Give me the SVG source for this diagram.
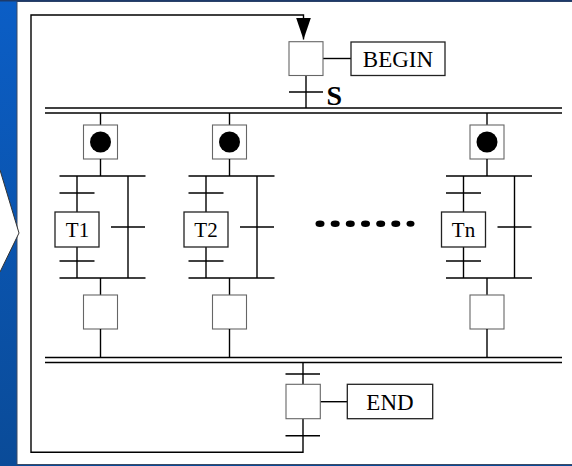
<svg xmlns="http://www.w3.org/2000/svg" width="572" height="466" viewBox="0 0 572 466">
<defs>
<linearGradient id="blue" x1="0" y1="0" x2="0" y2="1">
<stop offset="0" stop-color="#0b5ec6"/>
<stop offset="1" stop-color="#0a4b98"/>
</linearGradient>
<marker id="arr" viewBox="0 0 22 15" refX="22" refY="7.5" markerWidth="22" markerHeight="15" markerUnits="userSpaceOnUse" orient="auto">
<path d="M0,0 L22,7.5 L0,15 Z" fill="#000"/>
</marker>
<g id="col">
<line class="ln" x1="0" y1="113" x2="0" y2="125"/>
<rect class="step" x="-17" y="125" width="34" height="34"/>
<circle cx="0" cy="142" r="10.5" fill="#000"/>
<line class="ln" x1="0" y1="159" x2="0" y2="176"/>
<line class="ln" x1="-41" y1="176" x2="45" y2="176"/>
<line class="ln" x1="-23.5" y1="176" x2="-23.5" y2="212"/>
<line class="ln" x1="-41" y1="193" x2="-6" y2="193"/>
<line class="ln" x1="-23.5" y1="247" x2="-23.5" y2="278"/>
<line class="ln" x1="-41" y1="261" x2="-6" y2="261"/>
<line class="ln" x1="27.5" y1="176" x2="27.5" y2="278"/>
<line class="ln" x1="10.5" y1="227" x2="44.5" y2="227"/>
<line class="ln" x1="-41" y1="278" x2="45" y2="278"/>
<line class="ln" x1="0" y1="278" x2="0" y2="295"/>
<rect class="step" x="-17" y="295" width="34" height="34"/>
<line class="ln" x1="0" y1="329" x2="0" y2="357.5"/>
<rect class="act" x="-45.5" y="212" width="44" height="35"/>
</g>
</defs>
<style>
.ln{stroke:#000;stroke-width:1.4;fill:none}
.step{fill:#fff;stroke:#666;stroke-width:1.1}
.act{fill:#fff;stroke:#222;stroke-width:1.3}
.lbl{font-family:"Liberation Serif","Times New Roman",serif;fill:#000;text-anchor:middle}
</style>
<rect x="0" y="0" width="572" height="466" fill="url(#blue)"/>
<rect x="17" y="1.5" width="556" height="463" fill="#fff" stroke="#3a4a66" stroke-width="1"/>
<line x1="0" y1="0.8" x2="572" y2="0.8" stroke="#1d3a6a" stroke-width="1.6"/>
<polygon points="0,170 19,233 0,272" fill="#fff"/>
<polyline points="0,170 19,233 0,272" fill="none" stroke="#333" stroke-width="1"/>

<g id="connectors">
<polyline class="ln" points="303,418.7 303,452.3 31,452.3 31,15 303.5,15 303.5,39.5" marker-end="url(#arr)"/>
<line class="ln" x1="306" y1="75.5" x2="306" y2="108"/>
<line class="ln" x1="289" y1="92" x2="323" y2="92"/>
<line class="ln" x1="323" y1="58.5" x2="351" y2="58.5"/>
<line class="ln" x1="45" y1="108" x2="562" y2="108"/>
<line class="ln" x1="45" y1="113" x2="562" y2="113"/>
<line class="ln" x1="45" y1="357.5" x2="562" y2="357.5"/>
<line class="ln" x1="45" y1="362.5" x2="562" y2="362.5"/>
<line class="ln" x1="303" y1="362.5" x2="303" y2="384.3"/>
<line class="ln" x1="285.5" y1="374" x2="320" y2="374"/>
<line class="ln" x1="285.5" y1="435.7" x2="320" y2="435.7"/>
<line class="ln" x1="320.3" y1="401.7" x2="347.3" y2="401.7"/>
</g>

<g id="begin-step">
<rect class="step" x="289" y="41.7" width="34" height="33.8"/>
</g>
<g id="begin">
<rect class="act" x="351" y="42" width="94" height="33.5"/>
<text class="lbl" x="398" y="66.5" font-size="23">BEGIN</text>
</g>
<g id="s-label">
<text x="326.5" y="104.5" font-family="Liberation Serif, serif" font-size="28" font-weight="bold">S</text>
</g>

<g id="branch1">
<use href="#col" x="100.5"/>
<text class="lbl" x="77.5" y="236.5" font-size="21">T1</text>
</g>
<g id="branch2">
<use href="#col" x="229.5"/>
<text class="lbl" x="206" y="236.5" font-size="21">T2</text>
</g>
<g id="branchn">
<use href="#col" x="487"/>
<text class="lbl" x="463.5" y="236.5" font-size="21">Tn</text>
</g>

<g id="ellipsis" fill="#000">
<ellipse cx="320" cy="223.7" rx="4.5" ry="3.2"/>
<ellipse cx="335.2" cy="223.7" rx="4.5" ry="3.2"/>
<ellipse cx="350.3" cy="223.7" rx="4.5" ry="3.2"/>
<ellipse cx="365.5" cy="223.7" rx="4.5" ry="3.2"/>
<ellipse cx="380.7" cy="223.7" rx="4.5" ry="3.2"/>
<ellipse cx="395.8" cy="223.7" rx="4.5" ry="3.2"/>
<ellipse cx="410.5" cy="223.7" rx="4" ry="3"/>
</g>

<g id="end-step">
<rect class="step" x="286" y="384.3" width="34.3" height="34.4"/>
</g>
<g id="end">
<rect class="act" x="347.3" y="384.3" width="85.4" height="34.4"/>
<text class="lbl" x="390" y="410" font-size="23">END</text>
</g>
</svg>
